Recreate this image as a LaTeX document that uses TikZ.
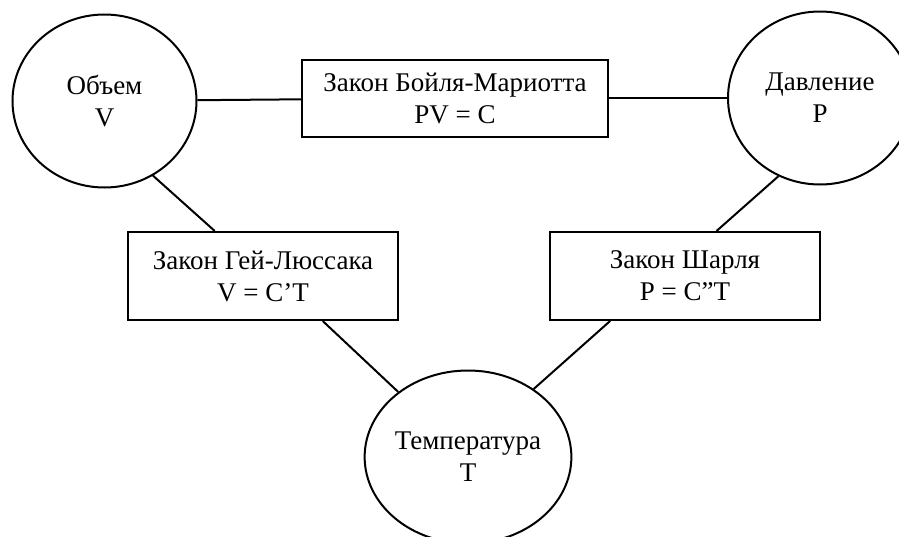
\documentclass[tikz,border=0pt]{standalone}
\usepackage{fontspec}
\setmainfont{Liberation Serif}
\usetikzlibrary{positioning, shapes.geometric}

\begin{document}
\begin{tikzpicture}[
    x = 1pt, y = -1pt,
    node distance = 118pt and 118pt,
    sirkel/.style = {ellipse, draw, line width=2pt, minimum width=184pt, minimum height=173pt, inner sep=0pt, align=center},
    boks/.style = {rectangle, draw, line width=2pt, inner sep=0pt, align=center, minimum width=270pt, minimum height=88pt},
    strek/.style = {black, line width=2pt},
    font=\fontsize{27pt}{32pt}\selectfont
    ]

  \useasboundingbox (0,0) rectangle (899,536);

  \node[sirkel] (V) at (104.5,101) {Объем\\V} ;
  \node[boks, minimum width=306pt, minimum height=77pt] (boyle) at (455,98) {Закон Бойля-Мариотта\\PV = C} ;
  \node[sirkel] (P) [right=of boyle] {Давление\\P} ;

  \node[boks] (lussac) at (263,276) {Закон Гей-Люссака\\V = C’T} ;
  \node[boks] (charles) [right=150pt of lussac] {Закон Шарля\\P = C”T} ;
  \node[sirkel] (T) at (468,457) {Температура\\T} ;

  \draw[strek]
  (V) edge (boyle)
  (boyle) edge (P)

  (V.-57) edge (lussac.137)
  (lussac.-37) edge (T.137)

  (P.-118) edge (charles.55)
  (charles.211) edge (T.46);
\end{tikzpicture}
\end{document}
